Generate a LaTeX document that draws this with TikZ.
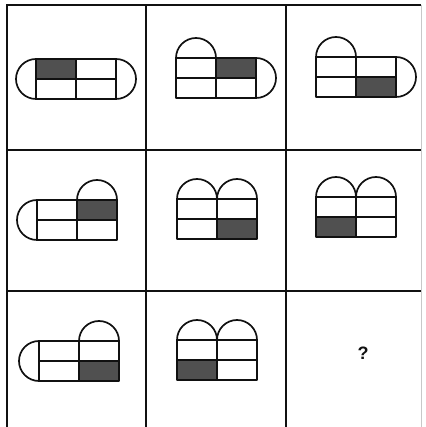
\documentclass[tikz,border=0pt]{standalone}
\usepackage{fontspec}
\setsansfont{Liberation Sans}
\definecolor{pInk}{HTML}{111111}
\definecolor{pDark}{HTML}{505050}
\definecolor{pFaint}{HTML}{C8C8C8}
\usepackage{tikz}

% one figure: a 2x2 block 80 wide, 40 high, with caps drawn round it
\newcommand{\panes}{\draw[outline] (0,0) rectangle (80,40) (0,20) -- (80,20) (40,0) -- (40,40);}
\newcommand{\darkcell}[2]{\fill[dark] (#1,#2) rectangle ++(40,20);}
\newcommand{\capleft}{\draw[outline] (0,40) arc[start angle=90, end angle=270, radius=20];}
\newcommand{\capright}{\draw[outline] (80,0) arc[start angle=-90, end angle=90, radius=20];}
\newcommand{\domeleft}{\draw[outline] (0,40) arc[start angle=180, end angle=0, radius=20];}
\newcommand{\domeright}{\draw[outline] (40,40) arc[start angle=180, end angle=0, radius=20];}

\begin{document}
\begin{tikzpicture}[x=1pt, y=1pt,
  gridline/.style={draw=pInk, line width=1.3pt},
  outline/.style={draw=pInk, line width=1.7pt, line join=round},
  dark/.style={fill=pDark}]
  \useasboundingbox (0,0) rectangle (425,427);
  % the 3x3 frame
  \foreach \gx in {7,146,286}{\draw[gridline] (\gx,422.6) -- (\gx,0);}
  \draw[draw=pFaint, line width=1pt] (421,422) -- (421,0);
  \foreach \gy in {422,277,136}{\draw[gridline] (6.4,\gy) -- (421,\gy);}

  % row 1
  \begin{scope}[shift={(36,328)}]
    \darkcell{0}{20} \panes \capleft \capright
  \end{scope}
  \begin{scope}[shift={(176,329)}]
    \darkcell{40}{20} \panes \domeleft \capright
  \end{scope}
  \begin{scope}[shift={(316,330)}]
    \darkcell{40}{0} \panes \domeleft \capright
  \end{scope}

  % row 2
  \begin{scope}[shift={(37,187)}]
    \darkcell{40}{20} \panes \capleft \domeright
  \end{scope}
  \begin{scope}[shift={(177,188)}]
    \darkcell{40}{0} \panes \domeleft \domeright
  \end{scope}
  \begin{scope}[shift={(316,190)}]
    \darkcell{0}{0} \panes \domeleft \domeright
  \end{scope}

  % row 3
  \begin{scope}[shift={(39,46)}]
    \darkcell{40}{0} \panes \capleft \domeright
  \end{scope}
  \begin{scope}[shift={(177,47)}]
    \darkcell{0}{0} \panes \domeleft \domeright
  \end{scope}
  \node[font=\sffamily\bfseries\fontsize{18}{21}\selectfont, text=pInk] (qmark) at (363,74) {?};
\end{tikzpicture}
\end{document}
